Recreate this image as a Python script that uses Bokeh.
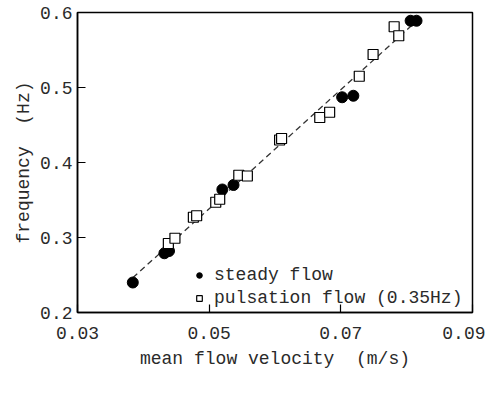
import numpy as np
from bokeh.plotting import figure
from bokeh.models import FixedTicker, PrintfTickFormatter, Legend, LegendItem, Range1d
from bokeh.embed import file_html
from bokeh.resources import INLINE

# data
steady_x = [0.0384, 0.0432, 0.0439, 0.0520, 0.0537, 0.0702, 0.0719, 0.0806, 0.0815]
steady_y = [0.240, 0.279, 0.282, 0.364, 0.370, 0.487, 0.489, 0.589, 0.589]
pulse_x = [0.0438, 0.0448, 0.0476, 0.0481, 0.0510, 0.0516, 0.0545, 0.0558,
           0.0607, 0.0610, 0.0668, 0.0683, 0.0728, 0.0749, 0.0781, 0.0788]
pulse_y = [0.292, 0.299, 0.327, 0.329, 0.347, 0.351, 0.383, 0.382,
           0.430, 0.432, 0.460, 0.467, 0.515, 0.544, 0.581, 0.569]
x_ticks = [0.03, 0.05, 0.07, 0.09]
y_ticks = [0.2, 0.3, 0.4, 0.5, 0.6]

FONT = "Liberation Mono"
TXT = "#2a2a2a"

p = figure(frame_width=395, frame_height=300, output_backend="svg", toolbar_location=None,
           x_range=Range1d(0.03, 0.09), y_range=Range1d(0.2, 0.6),
           min_border_left=77, min_border_right=13, min_border_top=12, min_border_bottom=66)
p.grid.visible = False
p.outline_line_color = "black"
p.outline_line_width = 1.5
p.background_fill_color = "white"
p.border_fill_color = "white"

# fit line through all points
allx = np.array(steady_x + pulse_x)
ally = np.array(steady_y + pulse_y)
k, b = np.polyfit(allx, ally, 1)
lx = np.array([min(allx), max(allx)])
p.line(lx, k * lx + b, line_color="#333333", line_width=1.3, line_dash="6 4")

r1 = p.scatter(steady_x, steady_y, marker="circle", size=11, fill_color="black", line_color="black")
r2 = p.scatter(pulse_x, pulse_y, marker="square", size=10, fill_color="white", line_color="black", line_width=1.2)

for ax in (p.xaxis[0], p.yaxis[0]):
    ax.major_tick_in = 8
    ax.major_tick_out = 0
    ax.minor_tick_in = 0
    ax.minor_tick_out = 0
    ax.axis_line_color = "black"
    ax.axis_line_width = 1.5
    ax.major_tick_line_width = 1.2
    ax.major_label_text_font = FONT
    ax.major_label_text_font_size = "18px"
    ax.major_label_text_color = TXT
    ax.axis_label_text_font = FONT
    ax.axis_label_text_font_size = "18px"
    ax.axis_label_text_font_style = "normal"
    ax.axis_label_text_color = TXT

p.xaxis.ticker = FixedTicker(ticks=x_ticks)
p.yaxis.ticker = FixedTicker(ticks=y_ticks)
p.xaxis.formatter = PrintfTickFormatter(format="%.2f")
p.yaxis.formatter = PrintfTickFormatter(format="%.1f")
p.xaxis.major_label_standoff = 14
p.yaxis.major_label_standoff = 5
p.xaxis.axis_label = "mean flow velocity\u00a0 (m/s)"
p.yaxis.axis_label = "frequency\u00a0 (Hz)"
p.xaxis.axis_label_standoff = 7
p.yaxis.axis_label_standoff = 3

legend = Legend(items=[LegendItem(label="steady flow", renderers=[r1]),
                       LegendItem(label="pulsation flow (0.35Hz)", renderers=[r2])],
                location=(115, 4), border_line_color=None, background_fill_alpha=0,
                label_text_font=FONT, label_text_font_size="18px", label_text_color=TXT,
                glyph_width=14, glyph_height=20, label_height=20, spacing=3,
                padding=0, margin=0, label_standoff=8)
p.add_layout(legend)

open("out.html", "w").write(file_html(p, INLINE))
